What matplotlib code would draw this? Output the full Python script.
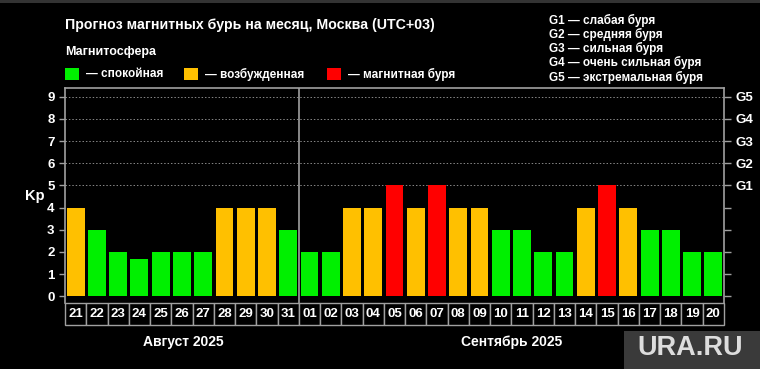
import matplotlib
matplotlib.use("Agg")
import matplotlib.pyplot as plt
from matplotlib.patches import Rectangle
import matplotlib.transforms as mtransforms

plt.rcParams['font.family'] = ['Liberation Sans', 'DejaVu Sans']
plt.rcParams['font.weight'] = 'bold'

days = ["21", "22", "23", "24", "25", "26", "27", "28", "29", "30", "31",
        "01", "02", "03", "04", "05", "06", "07", "08", "09", "10", "11",
        "12", "13", "14", "15", "16", "17", "18", "19", "20"]
kp = [4, 3, 2, 1.67, 2, 2, 2, 4, 4, 4, 3,
      2, 2, 4, 4, 5, 4, 5, 4, 4, 3, 3,
      2, 2, 4, 5, 4, 3, 3, 2, 2]
status = ["o", "g", "g", "g", "g", "g", "g", "o", "o", "o", "g",
          "g", "g", "o", "o", "r", "o", "r", "o", "o", "g", "g",
          "g", "g", "o", "r", "o", "g", "g", "g", "g"]
months = ["Август 2025", "Сентябрь 2025"]
legend_labels = ["— спокойная", "— возбужденная", "— магнитная буря"]
g_labels = ["G1 — слабая буря", "G2 — средняя буря", "G3 — сильная буря",
            "G4 — очень сильная буря", "G5 — экстремальная буря"]
yticks = [0, 1, 2, 3, 4, 5, 6, 7, 8, 9]
g_ticks = ["", "", "", "", "", "G1", "G2", "G3", "G4", "G5"]

colors = {"g": "#00f000", "o": "#ffc000", "r": "#ff0000"}
grey = "#a0a0a0"
W, H = 760, 369

fig = plt.figure(figsize=(7.6, 3.69), dpi=100, facecolor="black")
fig.patches.append(Rectangle((0, 1 - 3 / H), 1, 3 / H, transform=fig.transFigure,
                             facecolor="#333333", edgecolor="none"))

ax = fig.add_axes([65 / W, 1 - 302.7 / H, (724 - 65) / W, (302.7 - 88.3) / H])
ax.set_facecolor("black")
n = len(days)
x = list(range(n))
ax.bar(x, kp, width=0.84, color=[colors[s] for s in status], zorder=3)
ax.set_xlim(-0.5, n - 0.5)
ax.set_ylim(-0.29, 9.38)
for yv in range(5, 10):
    ax.axhline(yv, color="#888888", lw=0.7, ls=(0, (1.5, 2)), zorder=1)
ax.axvline(10.5, color=grey, lw=1.2, zorder=4)

for sp in ["left", "top", "right"]:
    ax.spines[sp].set_color(grey)
    ax.spines[sp].set_linewidth(1.2)
ax.spines["bottom"].set_visible(False)
ax.set_xticks([])
ax.set_yticks(yticks)
ax.set_yticklabels([str(v) for v in yticks], color="white", fontsize=9.5, fontweight="bold")
ax.tick_params(axis="y", colors=grey, labelcolor="white", length=4, width=1)

fig.text(35 / W, 1 - 196 / H, "Kp", color="white", fontsize=10.5, fontweight="bold",
         ha="center", va="center")

ax2 = ax.twinx()
ax2.set_ylim(ax.get_ylim())
ax2.set_yticks(yticks)
ax2.set_yticklabels(g_ticks, color="white", fontsize=9.5, fontweight="bold")
ax2.tick_params(axis="y", colors=grey, labelcolor="white", length=5, width=1)
for sp in ax2.spines.values():
    sp.set_visible(False)

# date boxes
trans = mtransforms.blended_transform_factory(ax.transData, ax.transAxes)
bh = 22 / (302.7 - 88.3)
for i, d in enumerate(days):
    ax.add_patch(Rectangle((i - 0.5, -bh), 1, bh, transform=trans, facecolor="black",
                           edgecolor=grey, lw=1, clip_on=False))
    ax.text(i, -bh / 2, d, transform=trans, ha="center", va="center",
            color="white", fontsize=9.5, fontweight="bold", clip_on=False)

# month labels
fig.text(183 / W, 1 - 342 / H, months[0], color="white", fontsize=10, fontweight="bold",
         ha="center", va="center")
fig.text(512 / W, 1 - 342 / H, months[1], color="white", fontsize=10, fontweight="bold",
         ha="center", va="center")

# title and legend
fig.text(65 / W, 1 - 25 / H, "Прогноз магнитных бурь на месяц, Москва (UTC+03)",
         color="white", fontsize=10.2, fontweight="bold", ha="left", va="center")
fig.text(65 / W, 1 - 52 / H, "Магнитосфера", color="white", fontsize=9,
         fontweight="bold", ha="left", va="center")
sq_x = [65, 184, 327]
txt_x = [86, 205, 348]
for sx, tx, c, lab in zip(sq_x, txt_x, ["g", "o", "r"], legend_labels):
    fig.patches.append(Rectangle((sx / W, 1 - 80 / H), 14 / W, 12 / H,
                                 transform=fig.transFigure, facecolor=colors[c],
                                 edgecolor="none"))
    fig.text(tx / W, 1 - 74 / H, lab, color="white", fontsize=8.5, fontweight="bold",
             ha="left", va="center")

for k, lab in enumerate(g_labels):
    fig.text(549 / W, 1 - (20 + 14.3 * k) / H, lab, color="white", fontsize=8.5,
             fontweight="bold", ha="left", va="center")

# watermark
fig.patches.append(Rectangle((624 / W, 0), 136 / W, 38 / H, transform=fig.transFigure,
                             facecolor="#3a3a3a", edgecolor="none"))
fig.text(690 / W, 1 - 348 / H, "URA.RU", color="#dddddd", fontsize=19.5,
         fontweight="bold", ha="center", va="center")

fig.savefig("out.png", dpi=100, facecolor="black")
